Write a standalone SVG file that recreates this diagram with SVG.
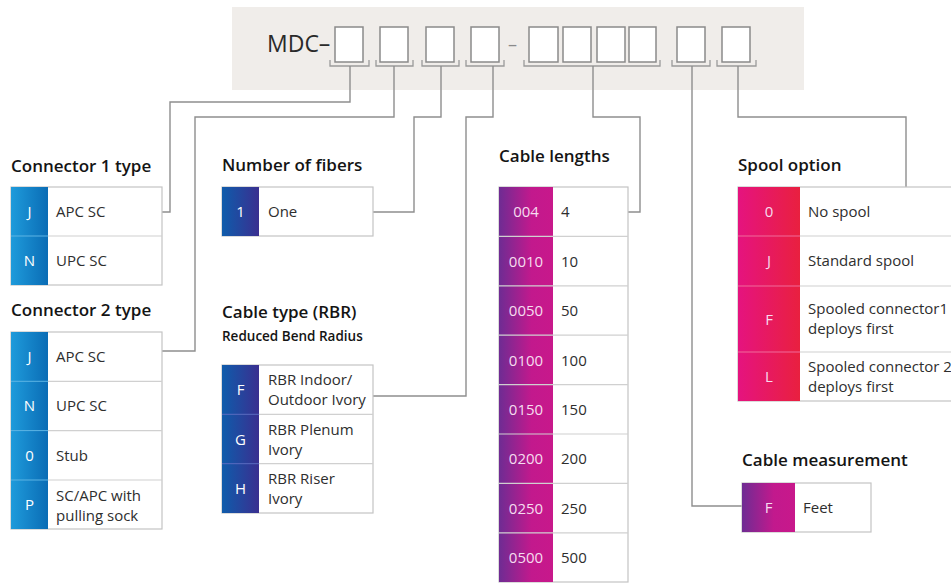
<svg xmlns="http://www.w3.org/2000/svg" width="951" height="583" viewBox="0 0 951 583">
<defs>
<linearGradient id="gBlue" x1="0" y1="0" x2="1" y2="0"><stop offset="0" stop-color="#1f9bdb"/><stop offset="1" stop-color="#0a6cb5"/></linearGradient>
<linearGradient id="gNavy" x1="0" y1="0" x2="1" y2="0"><stop offset="0" stop-color="#0f5cab"/><stop offset="1" stop-color="#3a2f90"/></linearGradient>
<linearGradient id="gPurple" x1="0" y1="0" x2="1" y2="0"><stop offset="0" stop-color="#6e2c93"/><stop offset="0.6" stop-color="#c2198d"/><stop offset="1" stop-color="#c8188b"/></linearGradient>
<linearGradient id="gPink" x1="0" y1="0" x2="1" y2="0"><stop offset="0" stop-color="#e5137f"/><stop offset="1" stop-color="#e9203f"/></linearGradient>
</defs>
<style>
text{font-family:"Open Sans","Liberation Sans",sans-serif;}
.title{font-size:17px;font-weight:600;fill:#141414;}
.sub{font-size:13.5px;font-weight:600;fill:#141414;}
.code{font-size:15px;fill:#ffffff;text-anchor:middle;}
.codep{font-size:15px;fill:#f6dcef;text-anchor:middle;}
.val{font-size:15px;fill:#2e2e2e;}
.cell{fill:#ffffff;stroke:#c4c4c4;stroke-width:1.2;}
.div{stroke:#d0d0d0;stroke-width:1.2;}
.conn{fill:none;stroke:#8e8e8e;stroke-width:1.4;}
.slot{fill:#ffffff;stroke:#8a8a8a;stroke-width:1.5;}
.brk{fill:none;stroke:#9a9a9a;stroke-width:1.3;}
</style>

<g id="header">
<rect x="232" y="7" width="572" height="83" fill="#f0edea"/>
<text x="267" y="52" font-size="23" fill="#2a2a2a">MDC–</text>
<text x="508" y="51" font-size="18" fill="#8a8a8a">–</text>
<rect class="slot" x="335" y="27" width="28" height="35"/>
<rect class="slot" x="380" y="27" width="28" height="35"/>
<rect class="slot" x="426" y="27" width="28" height="35"/>
<rect class="slot" x="471" y="27" width="28" height="35"/>
<rect class="slot" x="529" y="27" width="29" height="35"/>
<rect class="slot" x="563" y="27" width="28" height="35"/>
<rect class="slot" x="597" y="27" width="28" height="35"/>
<rect class="slot" x="629" y="27" width="27" height="35"/>
<rect class="slot" x="677" y="27" width="28" height="35"/>
<rect class="slot" x="722" y="27" width="28" height="35"/>
<path class="brk" d="M330,60V66H369V60"/>
<path class="brk" d="M376,60V66H413V60"/>
<path class="brk" d="M422,60V66H459V60"/>
<path class="brk" d="M466,60V66H504V60"/>
<path class="brk" d="M524,60V66H660V60"/>
<path class="brk" d="M672,60V66H710V60"/>
<path class="brk" d="M717,60V66H756V60"/>
</g>

<g id="connectors">
<path class="conn" d="M350,66V102H170V212H162"/>
<path class="conn" d="M394,66V117H195V351H162"/>
<path class="conn" d="M441,66V117H414V212H373"/>
<path class="conn" d="M493,66V117H466V396H373"/>
<path class="conn" d="M593,66V117H640V212H628"/>
<path class="conn" d="M692,66V506H742"/>
<path class="conn" d="M738,66V117H906V187"/>
</g>

<g id="connector1">
<text class="title" x="11" y="172">Connector 1 type</text>
<rect class="cell" x="11" y="187" width="151" height="98"/>
<line class="div" x1="11" y1="236" x2="162" y2="236"/>
<rect x="11" y="187" width="37" height="98" fill="url(#gBlue)"/>
<line x1="11" y1="236" x2="48" y2="236" stroke="#5db4e4" stroke-width="1"/>
<text class="code" x="29.5" y="217">J</text>
<text class="val" x="56" y="217">APC SC</text>
<text class="code" x="29.5" y="266">N</text>
<text class="val" x="56" y="266">UPC SC</text>
</g>

<g id="connector2">
<text class="title" x="11" y="316">Connector 2 type</text>
<rect class="cell" x="11" y="332" width="151" height="197"/>
<line class="div" x1="11" y1="381.3" x2="162" y2="381.3"/>
<line class="div" x1="11" y1="430.6" x2="162" y2="430.6"/>
<line class="div" x1="11" y1="480" x2="162" y2="480"/>
<rect x="11" y="332" width="37" height="197" fill="url(#gBlue)"/>
<g stroke="#5db4e4" stroke-width="1"><line x1="11" y1="381.3" x2="48" y2="381.3"/><line x1="11" y1="430.6" x2="48" y2="430.6"/><line x1="11" y1="480" x2="48" y2="480"/></g>
<text class="code" x="29.5" y="362">J</text>
<text class="val" x="56" y="362">APC SC</text>
<text class="code" x="29.5" y="411">N</text>
<text class="val" x="56" y="411">UPC SC</text>
<text class="code" x="29.5" y="460.5">0</text>
<text class="val" x="56" y="460.5">Stub</text>
<text class="code" x="29.5" y="510">P</text>
<text class="val" x="56" y="501">SC/APC with</text>
<text class="val" x="56" y="521">pulling sock</text>
</g>

<g id="fibers">
<text class="title" x="222" y="171">Number of fibers</text>
<rect class="cell" x="222" y="187" width="151" height="49"/>
<rect x="222" y="187" width="37" height="49" fill="url(#gNavy)"/>
<text class="code" x="240.5" y="217">1</text>
<text class="val" x="268" y="217">One</text>
</g>

<g id="cabletype">
<text class="title" x="222" y="318">Cable type (RBR)</text>
<text class="sub" x="222" y="341">Reduced Bend Radius</text>
<rect class="cell" x="222" y="365" width="151" height="148"/>
<line class="div" x1="222" y1="414.3" x2="373" y2="414.3"/>
<line class="div" x1="222" y1="463.7" x2="373" y2="463.7"/>
<rect x="222" y="365" width="37" height="148" fill="url(#gNavy)"/>
<g stroke="#5a6cc0" stroke-width="1"><line x1="222" y1="414.3" x2="259" y2="414.3"/><line x1="222" y1="463.7" x2="259" y2="463.7"/></g>
<text class="code" x="240.5" y="395">F</text>
<text class="val" x="268" y="385">RBR Indoor/</text>
<text class="val" x="268" y="405">Outdoor Ivory</text>
<text class="code" x="240.5" y="444.5">G</text>
<text class="val" x="268" y="434.5">RBR Plenum</text>
<text class="val" x="268" y="454.5">Ivory</text>
<text class="code" x="240.5" y="494">H</text>
<text class="val" x="268" y="484">RBR Riser</text>
<text class="val" x="268" y="504">Ivory</text>
</g>

<g id="lengths">
<text class="title" x="499" y="162">Cable lengths</text>
<rect class="cell" x="499" y="187" width="129" height="395"/>
<rect x="499" y="187" width="54" height="395" fill="url(#gPurple)"/>
<g class="div"><line x1="499" y1="236.4" x2="628" y2="236.4"/><line x1="499" y1="285.8" x2="628" y2="285.8"/><line x1="499" y1="335.2" x2="628" y2="335.2"/><line x1="499" y1="384.6" x2="628" y2="384.6"/><line x1="499" y1="434" x2="628" y2="434"/><line x1="499" y1="483.4" x2="628" y2="483.4"/><line x1="499" y1="532.8" x2="628" y2="532.8"/></g>
<text class="codep" x="526" y="217">004</text><text class="val" x="561" y="217">4</text>
<text class="codep" x="526" y="266.5">0010</text><text class="val" x="561" y="266.5">10</text>
<text class="codep" x="526" y="316">0050</text><text class="val" x="561" y="316">50</text>
<text class="codep" x="526" y="365.5">0100</text><text class="val" x="561" y="365.5">100</text>
<text class="codep" x="526" y="414.5">0150</text><text class="val" x="561" y="414.5">150</text>
<text class="codep" x="526" y="464">0200</text><text class="val" x="561" y="464">200</text>
<text class="codep" x="526" y="513.5">0250</text><text class="val" x="561" y="513.5">250</text>
<text class="codep" x="526" y="563">0500</text><text class="val" x="561" y="563">500</text>
</g>

<g id="spool">
<text class="title" x="738" y="171">Spool option</text>
<rect class="cell" x="738" y="187" width="225" height="214"/>
<line class="div" x1="738" y1="236" x2="963" y2="236"/>
<line class="div" x1="738" y1="286" x2="963" y2="286"/>
<line class="div" x1="738" y1="352" x2="963" y2="352"/>
<rect x="738" y="187" width="62" height="214" fill="url(#gPink)"/>
<g stroke="#f06a9a" stroke-width="1"><line x1="738" y1="236" x2="800" y2="236"/><line x1="738" y1="286" x2="800" y2="286"/><line x1="738" y1="352" x2="800" y2="352"/></g>
<text class="codep" x="769" y="217">0</text><text class="val" x="808" y="217">No spool</text>
<text class="codep" x="769" y="266">J</text><text class="val" x="808" y="266">Standard spool</text>
<text class="codep" x="769" y="324.5">F</text><text class="val" x="808" y="314">Spooled connector1</text><text class="val" x="808" y="334">deploys first</text>
<text class="codep" x="769" y="382">L</text><text class="val" x="808" y="372">Spooled connector 2</text><text class="val" x="808" y="392">deploys first</text>
</g>

<g id="measurement">
<text class="title" x="742" y="466">Cable measurement</text>
<rect class="cell" x="742" y="483" width="129" height="49"/>
<rect x="742" y="483" width="53" height="49" fill="url(#gPurple)"/>
<text class="codep" x="768.5" y="513">F</text>
<text class="val" x="803" y="513">Feet</text>
</g>
</svg>
